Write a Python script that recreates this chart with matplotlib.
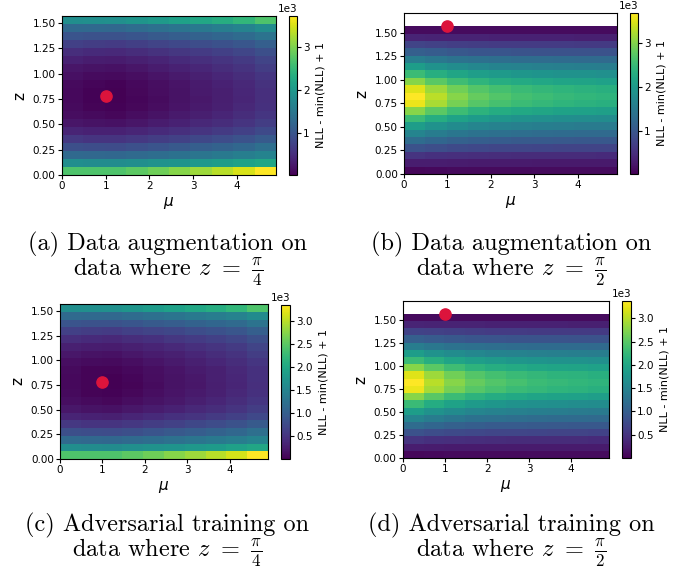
import numpy as np
import matplotlib
matplotlib.use("Agg")
import matplotlib.pyplot as plt

# grid of the scan: mu columns and z rows
mu_edges = [0.0, 0.49, 0.98, 1.47, 1.96, 2.45, 2.94, 3.43, 3.92, 4.41, 4.9]
z_edges = np.linspace(0, np.pi / 2, 21)

# NLL - min(NLL) + 1, in units of 1e3, rows from z=0 (bottom) to z=pi/2 (top)
nll_a = [
    [2.69, 2.69, 2.69, 2.80, 2.92, 3.06, 3.19, 3.34, 3.51, 3.74],
    [1.83, 1.81, 1.80, 1.84, 1.89, 1.94, 2.00, 2.05, 2.12, 2.21],
    [1.27, 1.25, 1.23, 1.28, 1.33, 1.39, 1.45, 1.51, 1.58, 1.68],
    [0.90, 0.87, 0.86, 0.91, 0.97, 1.03, 1.10, 1.16, 1.24, 1.35],
    [0.60, 0.57, 0.56, 0.61, 0.67, 0.73, 0.80, 0.86, 0.94, 1.05],
    [0.37, 0.35, 0.34, 0.39, 0.45, 0.51, 0.57, 0.64, 0.71, 0.82],
    [0.22, 0.19, 0.17, 0.22, 0.28, 0.35, 0.41, 0.48, 0.56, 0.67],
    [0.13, 0.09, 0.07, 0.12, 0.18, 0.25, 0.31, 0.39, 0.47, 0.58],
    [0.09, 0.04, 0.02, 0.07, 0.13, 0.20, 0.26, 0.33, 0.41, 0.52],
    [0.08, 0.03, 0.001, 0.05, 0.11, 0.18, 0.24, 0.31, 0.39, 0.50],
    [0.08, 0.03, 0.01, 0.06, 0.12, 0.18, 0.25, 0.32, 0.40, 0.51],
    [0.10, 0.05, 0.03, 0.08, 0.14, 0.20, 0.27, 0.34, 0.42, 0.53],
    [0.15, 0.11, 0.09, 0.14, 0.20, 0.26, 0.33, 0.40, 0.48, 0.58],
    [0.22, 0.19, 0.17, 0.22, 0.28, 0.34, 0.40, 0.47, 0.55, 0.66],
    [0.34, 0.30, 0.28, 0.33, 0.38, 0.44, 0.50, 0.56, 0.64, 0.75],
    [0.49, 0.45, 0.43, 0.48, 0.53, 0.59, 0.65, 0.71, 0.78, 0.90],
    [0.71, 0.67, 0.65, 0.70, 0.75, 0.81, 0.87, 0.93, 1.00, 1.12],
    [0.97, 0.95, 0.94, 0.99, 1.04, 1.10, 1.16, 1.22, 1.29, 1.42],
    [1.27, 1.26, 1.25, 1.31, 1.37, 1.44, 1.51, 1.58, 1.67, 1.80],
    [1.83, 1.85, 1.87, 1.95, 2.03, 2.13, 2.23, 2.33, 2.46, 2.69],
]

nll_b = [
    [0.07, 0.08, 0.09, 0.10, 0.10, 0.10, 0.11, 0.11, 0.11, 0.11],
    [0.30, 0.29, 0.28, 0.27, 0.27, 0.27, 0.26, 0.26, 0.26, 0.26],
    [0.56, 0.52, 0.50, 0.48, 0.47, 0.46, 0.46, 0.45, 0.45, 0.44],
    [0.93, 0.87, 0.83, 0.80, 0.78, 0.77, 0.76, 0.75, 0.75, 0.74],
    [1.30, 1.21, 1.14, 1.09, 1.06, 1.04, 1.03, 1.02, 1.01, 1.00],
    [1.67, 1.54, 1.45, 1.39, 1.35, 1.32, 1.30, 1.28, 1.27, 1.26],
    [2.04, 1.88, 1.77, 1.68, 1.63, 1.60, 1.57, 1.55, 1.53, 1.52],
    [2.52, 2.29, 2.13, 2.01, 1.94, 1.89, 1.85, 1.82, 1.80, 1.78],
    [3.03, 2.75, 2.53, 2.38, 2.28, 2.22, 2.17, 2.13, 2.10, 2.07],
    [3.59, 3.21, 2.93, 2.73, 2.61, 2.52, 2.46, 2.41, 2.37, 2.33],
    [3.70, 3.31, 3.03, 2.82, 2.69, 2.60, 2.53, 2.48, 2.44, 2.41],
    [3.52, 3.16, 2.90, 2.71, 2.59, 2.51, 2.45, 2.40, 2.37, 2.33],
    [3.03, 2.76, 2.55, 2.40, 2.31, 2.25, 2.20, 2.16, 2.14, 2.11],
    [2.52, 2.32, 2.17, 2.06, 2.00, 1.95, 1.92, 1.89, 1.87, 1.85],
    [2.04, 1.89, 1.79, 1.71, 1.66, 1.63, 1.60, 1.58, 1.57, 1.55],
    [1.55, 1.47, 1.40, 1.35, 1.32, 1.30, 1.29, 1.28, 1.27, 1.26],
    [1.11, 1.06, 1.01, 0.98, 0.97, 0.95, 0.94, 0.94, 0.93, 0.93],
    [0.74, 0.71, 0.68, 0.66, 0.65, 0.65, 0.64, 0.64, 0.63, 0.63],
    [0.37, 0.36, 0.35, 0.35, 0.34, 0.34, 0.34, 0.34, 0.33, 0.33],
    [0.11, 0.11, 0.11, 0.11, 0.11, 0.11, 0.11, 0.11, 0.11, 0.11],
]

nll_c = [
    [2.41, 2.41, 2.41, 2.51, 2.61, 2.74, 2.86, 2.99, 3.14, 3.35],
    [1.64, 1.62, 1.61, 1.65, 1.69, 1.74, 1.79, 1.83, 1.90, 1.98],
    [1.14, 1.12, 1.10, 1.15, 1.19, 1.24, 1.30, 1.35, 1.41, 1.50],
    [0.81, 0.78, 0.77, 0.81, 0.87, 0.92, 0.98, 1.04, 1.11, 1.21],
    [0.54, 0.51, 0.50, 0.55, 0.60, 0.65, 0.72, 0.77, 0.84, 0.94],
    [0.33, 0.31, 0.30, 0.35, 0.40, 0.46, 0.51, 0.57, 0.64, 0.73],
    [0.20, 0.17, 0.15, 0.20, 0.25, 0.31, 0.37, 0.43, 0.50, 0.60],
    [0.12, 0.08, 0.06, 0.11, 0.16, 0.22, 0.28, 0.35, 0.42, 0.52],
    [0.08, 0.04, 0.02, 0.06, 0.12, 0.18, 0.23, 0.30, 0.37, 0.47],
    [0.07, 0.03, 0.001, 0.04, 0.10, 0.16, 0.21, 0.28, 0.35, 0.45],
    [0.07, 0.03, 0.01, 0.05, 0.11, 0.16, 0.22, 0.29, 0.36, 0.46],
    [0.09, 0.04, 0.03, 0.07, 0.13, 0.18, 0.24, 0.30, 0.38, 0.47],
    [0.13, 0.10, 0.08, 0.13, 0.18, 0.23, 0.30, 0.36, 0.43, 0.52],
    [0.20, 0.17, 0.15, 0.20, 0.25, 0.30, 0.36, 0.42, 0.49, 0.59],
    [0.30, 0.27, 0.25, 0.30, 0.34, 0.39, 0.45, 0.50, 0.57, 0.67],
    [0.44, 0.40, 0.38, 0.43, 0.47, 0.53, 0.58, 0.64, 0.70, 0.81],
    [0.64, 0.60, 0.58, 0.63, 0.67, 0.72, 0.78, 0.83, 0.90, 1.00],
    [0.87, 0.85, 0.84, 0.89, 0.93, 0.98, 1.04, 1.09, 1.15, 1.27],
    [1.14, 1.13, 1.12, 1.17, 1.23, 1.29, 1.35, 1.41, 1.49, 1.61],
    [1.64, 1.66, 1.67, 1.75, 1.82, 1.91, 2.00, 2.09, 2.20, 2.41],
]

nll_d = [
    [0.06, 0.07, 0.08, 0.09, 0.09, 0.09, 0.10, 0.10, 0.10, 0.10],
    [0.27, 0.26, 0.25, 0.25, 0.25, 0.25, 0.24, 0.24, 0.24, 0.24],
    [0.51, 0.47, 0.46, 0.44, 0.43, 0.42, 0.42, 0.41, 0.41, 0.40],
    [0.85, 0.79, 0.76, 0.73, 0.71, 0.70, 0.69, 0.68, 0.68, 0.67],
    [1.18, 1.10, 1.04, 0.99, 0.96, 0.95, 0.94, 0.93, 0.92, 0.91],
    [1.52, 1.40, 1.32, 1.26, 1.23, 1.20, 1.18, 1.16, 1.16, 1.15],
    [1.86, 1.71, 1.61, 1.53, 1.48, 1.46, 1.43, 1.41, 1.39, 1.38],
    [2.29, 2.08, 1.94, 1.83, 1.77, 1.72, 1.68, 1.66, 1.64, 1.62],
    [2.76, 2.50, 2.30, 2.17, 2.07, 2.02, 1.97, 1.94, 1.91, 1.88],
    [3.27, 2.92, 2.67, 2.48, 2.38, 2.29, 2.24, 2.19, 2.16, 2.12],
    [3.37, 3.01, 2.76, 2.57, 2.45, 2.37, 2.30, 2.26, 2.22, 2.19],
    [3.20, 2.88, 2.64, 2.47, 2.36, 2.28, 2.23, 2.18, 2.16, 2.12],
    [2.76, 2.51, 2.32, 2.18, 2.10, 2.05, 2.00, 1.97, 1.95, 1.92],
    [2.29, 2.11, 1.97, 1.87, 1.82, 1.77, 1.75, 1.72, 1.70, 1.68],
    [1.86, 1.72, 1.63, 1.56, 1.51, 1.48, 1.46, 1.44, 1.43, 1.41],
    [1.41, 1.34, 1.27, 1.23, 1.20, 1.18, 1.17, 1.16, 1.16, 1.15],
    [1.01, 0.96, 0.92, 0.89, 0.88, 0.86, 0.86, 0.86, 0.85, 0.85],
    [0.67, 0.65, 0.62, 0.60, 0.59, 0.59, 0.58, 0.58, 0.57, 0.57],
    [0.34, 0.33, 0.32, 0.32, 0.31, 0.31, 0.31, 0.31, 0.30, 0.30],
    [0.10, 0.10, 0.10, 0.10, 0.10, 0.10, 0.10, 0.10, 0.10, 0.10],
]

# true parameters (mu, z) marked with the red dot
true_points = [(1.0, np.pi / 4), (1.0, np.pi / 2), (1.0, np.pi / 4), (1.0, np.pi / 2)]
cbar_ticks = [[1000, 2000, 3000], [1000, 2000, 3000],
              [500, 1000, 1500, 2000, 2500, 3000], [500, 1000, 1500, 2000, 2500, 3000]]
captions = [
    ("(a) Data augmentation on", r"data where $z\ =\ \frac{\pi}{4}$"),
    ("(b) Data augmentation on", r"data where $z\ =\ \frac{\pi}{2}$"),
    ("(c) Adversarial training on", r"data where $z\ =\ \frac{\pi}{4}$"),
    ("(d) Adversarial training on", r"data where $z\ =\ \frac{\pi}{2}$"),
]

W, H = 688, 572
fig = plt.figure(figsize=(W / 100, H / 100), dpi=100)

def box(x0, y0, x1, y1):
    # pixel box (top-left origin) -> figure fraction
    return [x0 / W, 1 - y1 / H, (x1 - x0) / W, (y1 - y0) / H]

ax_boxes = [box(62, 16, 276, 175), box(404, 13, 617, 174),
            box(60, 304, 268, 459), box(403, 301, 609, 458)]
cax_boxes = [box(289, 16, 297, 175), box(630, 13, 638, 174),
             box(281, 305, 290, 459), box(622, 301, 631, 458)]
ylims = [None, 1.71, None, 1.71]
cap_x = [168, 511, 167, 511]
cap_y = [(250, 276), (250, 276), (531, 557), (531, 557)]

for i, nll in enumerate([nll_a, nll_b, nll_c, nll_d]):
    ax = fig.add_axes(ax_boxes[i])
    cax = fig.add_axes(cax_boxes[i])
    vals = np.array(nll) * 1000
    mesh = ax.pcolormesh(mu_edges, z_edges, vals, cmap="viridis", vmin=1, vmax=vals.max())
    ax.scatter([true_points[i][0]], [true_points[i][1]], s=65, color="crimson", zorder=3)
    ax.set_xlim(0, 4.9)
    if ylims[i]:
        ax.set_ylim(0, ylims[i])
    else:
        ax.set_ylim(0, np.pi / 2)
    ax.set_xticks([0, 1, 2, 3, 4])
    ax.set_yticks([0, 0.25, 0.5, 0.75, 1.0, 1.25, 1.5])
    ax.yaxis.set_major_formatter(matplotlib.ticker.FormatStrFormatter("%.2f"))
    ax.tick_params(labelsize=7.5, length=3, pad=1.5)
    ax.set_xlabel(r"$\mu$", fontsize=11, labelpad=3)
    ax.set_ylabel("z", fontsize=11, labelpad=4)

    cb = fig.colorbar(mesh, cax=cax)
    cb.set_ticks(cbar_ticks[i])
    fmt = matplotlib.ticker.ScalarFormatter(useMathText=False)
    fmt.set_powerlimits((0, 0))
    cb.ax.yaxis.set_major_formatter(fmt)
    cb.ax.tick_params(labelsize=7.5, length=3, pad=1.5)
    cb.ax.yaxis.get_offset_text().set_fontsize(7.5)
    cb.set_label("NLL - min(NLL) + 1", fontsize=8, labelpad=4)

    l1, l2 = captions[i]
    fig.text(cap_x[i] / W, 1 - cap_y[i][0] / H, l1, ha="center", va="baseline",
             fontsize=17.5, fontfamily="cmr10", math_fontfamily="cm")
    fig.text(cap_x[i] / W, 1 - cap_y[i][1] / H, l2, ha="center", va="baseline",
             fontsize=17.5, fontfamily="cmr10", math_fontfamily="cm")

fig.savefig("out.png", dpi=100)
